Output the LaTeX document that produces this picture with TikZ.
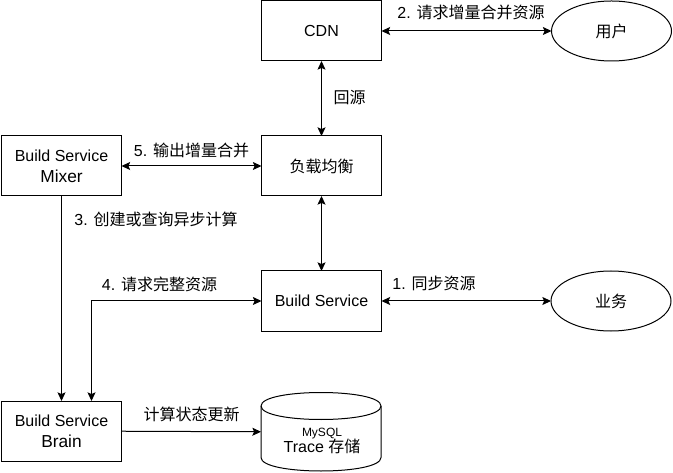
\documentclass[tikz,border=0pt]{standalone}
\usepackage{fontspec}
\usepackage{tikz}
\usetikzlibrary{arrows.meta,shapes.geometric}
\setmainfont{Liberation Sans}
\newfontfamily\cjk{Noto Sans CJK SC}
\def\boxwidth{90pt}
\def\boxheight{45pt}

\begin{document}
\begin{tikzpicture}[x=.75pt,y=-.75pt,line width=.75pt,>={Stealth[length=6.5pt,width=6pt,inset=1.3pt]},font=\fontsize{12pt}{15pt}\selectfont]
    \tikzstyle{block}=[rectangle,draw=black,fill=white,minimum width=\boxwidth,minimum height=\boxheight,inner sep=0pt,outer sep=0pt,align=center]
    \tikzstyle{actor}=[block,ellipse]
    \tikzstyle{store}=[block,draw=none,fill=none,minimum height=60pt]
    \tikzstyle{annot}=[inner sep=0pt,align=center]

    \useasboundingbox[fill=white] (0,0) rectangle (673,473);

    % Draw the middle column
    \node[block] (cdn) at (321.5,31) {CDN};
    \node[block] (lb) at (321.5,166) {\cjk 负载均衡};
    \node[block] (build) at (321.5,301) {Build Service};

    % Draw the left column
    \node[block] (mixer) at (61.5,166) {Build Service\\[1pt]{\fontsize{13pt}{15pt}\selectfont Mixer}};
    \node[block] (brain) at (61.5,431) {Build Service\\[1pt]{\fontsize{13pt}{15pt}\selectfont Brain}};

    % Draw the right column
    \node[actor] (user) at (611.5,31) {\cjk 用户};
    \node[actor] (biz) at (611,301) {\cjk 业务};

    % Draw the storage
    \node[store] (trace) at (321,432) {};
    \draw (261,406) .. controls (261,388) and (381,388) .. (381,406)
        -- (381,457.5) .. controls (381,475.5) and (261,475.5) .. (261,457.5) -- cycle;
    \draw (261,406) .. controls (261,424) and (381,424) .. (381,406);
    \node[annot] (tracetext) at (322,440.5) {\fontsize{9pt}{11pt}\selectfont MySQL\\[-3pt]Trace {\cjk 存储}};

    % Free end of the connector to the brain
    \coordinate (brainport) at (91.5,401);

    % Connect the boxes
    \draw[<->] (cdn) -- (user);
    \draw[<->] (cdn) -- (lb);
    \draw[<->] (mixer) -- (lb);
    \draw[<->] (lb) -- (build);
    \draw[<->] (build) -- (biz);
    \draw[->] (mixer) -- (brain);
    \draw[<->] (build) -| (brainport);
    \draw[->] (brain) -- (trace);

    % Annotate the connectors
    \node[annot] (l2) at (471,12) {2. {\cjk 请求增量合并资源}};
    \node[annot] (lhy) at (349.5,98) {\cjk 回源};
    \node[annot] (l5) at (191.5,150) {5. {\cjk 输出增量合并}};
    \node[annot] (l3) at (156,219) {3. {\cjk 创建或查询异步计算}};
    \node[annot] (l4) at (159.5,284) {4. {\cjk 请求完整资源}};
    \node[annot] (l1) at (434,283) {1. {\cjk 同步资源}};
    \node[annot] (lcalc) at (191.5,414) {\cjk 计算状态更新};
\end{tikzpicture}
\end{document}
